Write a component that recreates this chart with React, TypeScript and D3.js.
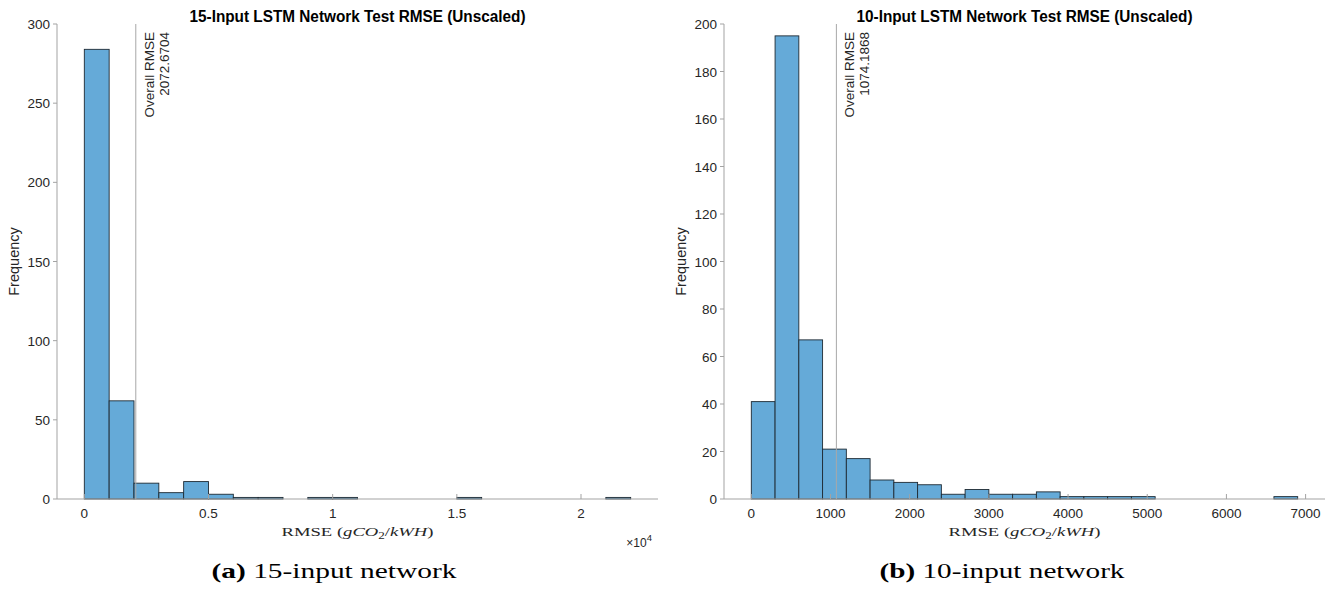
import React from 'react';
import * as d3 from 'd3';

// 15-input network histogram (bin width 1000)
const binWidthA = 1000;
const countsA = [284, 62, 10, 4, 11, 3, 1, 1, 0, 1, 1, 0, 0, 0, 0, 1, 0, 0, 0, 0, 0, 1];
const rmseA = 2072.6704;
const xTicksA = [0, 5000, 10000, 15000, 20000];
const xTickLabelsA = ['0', '0.5', '1', '1.5', '2'];
const yTicksA = [0, 50, 100, 150, 200, 250, 300];

// 10-input network histogram (bin width 300)
const binWidthB = 300;
const countsB = [41, 195, 67, 21, 17, 8, 7, 6, 2, 4, 2, 2, 3, 1, 1, 1, 1, 0, 0, 0, 0, 0, 1];
const rmseB = 1074.1868;
const xTicksB = [0, 1000, 2000, 3000, 4000, 5000, 6000, 7000];
const xTickLabelsB = ['0', '1000', '2000', '3000', '4000', '5000', '6000', '7000'];
const yTicksB = [0, 20, 40, 60, 80, 100, 120, 140, 160, 180, 200];

const SANS = '"Liberation Sans", Arial, Helvetica, sans-serif';
const SERIF = '"Liberation Serif", "Times New Roman", serif';
const AXIS = '#a3a3a3';
const TEXT = '#262626';
const FILL = '#65aad8';
const EDGE = '#1e2a33';

type HistProps = {
  title: string;
  counts: number[];
  binWidth: number;
  rmse: number;
  xTicks: number[];
  xTickLabels: string[];
  yTicks: number[];
  yMax: number;
  left: number;
  right: number;
  exponent?: boolean;
  caption: string;
  tag: string;
  captionX: number;
};

function Histogram(p: HistProps) {
  const top = 24;
  const bottom = 499;
  const edgeMax = p.counts.length * p.binWidth;
  const pad = edgeMax * 0.05;
  const x = d3.scaleLinear().domain([-pad, edgeMax + pad]).range([p.left, p.right]);
  const y = d3.scaleLinear().domain([0, p.yMax]).range([bottom, top]);
  const cx = (p.left + p.right) / 2;
  const lx = x(p.rmse);

  return (
    <g>
      <text x={cx} y={22} textAnchor="middle" fontFamily={SANS} fontWeight="bold" fontSize={16}
        textLength={336} lengthAdjust="spacingAndGlyphs" fill="#000">{p.title}</text>

      {p.counts.map((c, i) => c > 0 && (
        <rect key={i} x={x(i * p.binWidth)} y={y(c)} width={x((i + 1) * p.binWidth) - x(i * p.binWidth)}
          height={y(0) - y(c)} fill={FILL} stroke={EDGE} strokeWidth={0.9} />
      ))}

      {/* axes */}
      <line x1={p.left} x2={p.left} y1={top} y2={bottom} stroke={AXIS} strokeWidth={1} />
      <line x1={p.left} x2={p.right} y1={bottom} y2={bottom} stroke={AXIS} strokeWidth={1} />
      {p.yTicks.map((t) => (
        <g key={t}>
          <line x1={p.left - 4} x2={p.left} y1={y(t)} y2={y(t)} stroke={AXIS} />
          <text x={p.left - 7} y={y(t) + 5} textAnchor="end" fontFamily={SANS} fontSize={13.5} fill={TEXT}>{t}</text>
        </g>
      ))}
      {p.xTicks.map((t, i) => (
        <g key={t}>
          <line x1={x(t)} x2={x(t)} y1={bottom} y2={bottom - 5} stroke={AXIS} />
          <text x={x(t)} y={518} textAnchor="middle" fontFamily={SANS} fontSize={13.5} fill={TEXT}>{p.xTickLabels[i]}</text>
        </g>
      ))}
      {p.exponent && (
        <text x={p.right - 6} y={547} textAnchor="end" fontFamily={SANS} fontSize={12} fill={TEXT}>
          ×10<tspan dy={-6} fontSize={9.5}>4</tspan>
        </text>
      )}

      {/* overall RMSE line */}
      <line x1={lx} x2={lx} y1={top} y2={bottom} stroke="#a8a8a8" strokeWidth={1} />
      <text transform={`translate(${lx + 18},32) rotate(-90)`} textAnchor="end" fontFamily={SANS} fontSize={13.5} fill={TEXT}>Overall RMSE</text>
      <text transform={`translate(${lx + 33},32) rotate(-90)`} textAnchor="end" fontFamily={SANS} fontSize={13.5} fill={TEXT}>{p.rmse.toFixed(4)}</text>

      {/* labels */}
      <text transform={`translate(${p.left - 38},${(top + bottom) / 2}) rotate(-90)`} textAnchor="middle"
        fontFamily={SANS} fontSize={14.5} fill={TEXT}>Frequency</text>
      <text x={cx} y={536} textAnchor="middle" fontFamily={SERIF} fontSize={13.5} fill={TEXT}
        textLength={152} lengthAdjust="spacingAndGlyphs">
        RMSE (<tspan fontStyle="italic">gCO</tspan><tspan fontSize={9.5} dy={2.5}>2</tspan><tspan dy={-2.5}>/</tspan><tspan fontStyle="italic">kWH</tspan>)
      </text>
      <text x={p.captionX} y={578} textAnchor="middle" fontFamily={SERIF} fontSize={21} fill="#000"
        textLength={245} lengthAdjust="spacingAndGlyphs">
        <tspan fontWeight="bold">({p.tag})</tspan> {p.caption}
      </text>
    </g>
  );
}

export default function App() {
  return (
    <svg width={1338} height={589} style={{ position: 'absolute', left: 0, top: 0, background: '#fff' }}>
      <rect width={1338} height={589} fill="#fff" />
      <Histogram title="15-Input LSTM Network Test RMSE (Unscaled)" counts={countsA} binWidth={binWidthA}
        rmse={rmseA} xTicks={xTicksA} xTickLabels={xTickLabelsA} yTicks={yTicksA} yMax={300}
        left={57} right={658} exponent caption="15-input network" tag="a" captionX={334} />
      <Histogram title="10-Input LSTM Network Test RMSE (Unscaled)" counts={countsB} binWidth={binWidthB}
        rmse={rmseB} xTicks={xTicksB} xTickLabels={xTickLabelsB} yTicks={yTicksB} yMax={200}
        left={724} right={1325} caption="10-input network" tag="b" captionX={1002} />
    </svg>
  );
}
